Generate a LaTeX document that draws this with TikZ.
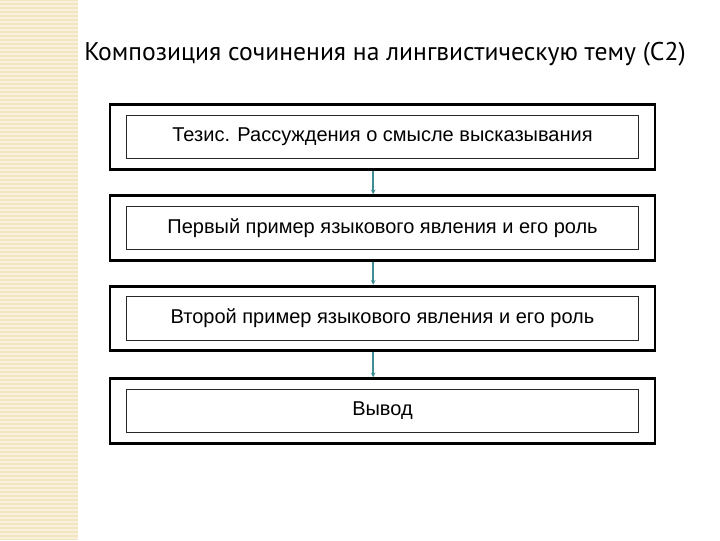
\documentclass[tikz,border=0pt]{standalone}
\usepackage{fontspec}
\setmainfont{Liberation Sans}
\newfontfamily\titlefont{PT Sans}
\usetikzlibrary{arrows.meta}
\definecolor{stripbg}{RGB}{242,229,194}
\definecolor{stripln}{RGB}{248,240,218}
\definecolor{arrowteal}{RGB}{62,142,148}
\definecolor{innergray}{RGB}{40,40,40}

\begin{document}
\begin{tikzpicture}[x=0.75pt,y=-0.75pt]
	\useasboundingbox (0,0) rectangle (720,540);
	% left strip
	\fill[stripbg] (0,0) rectangle (78,540);
	\foreach \y in {2,6,...,538}
		\draw[stripln, line width=0.8pt] (0,\y) -- (78,\y);

	\node[anchor=base west, inner sep=0pt, font=\titlefont\fontsize{19.2}{22}\selectfont] (title) at (84,60) {Композиция сочинения на лингвистическую тему (С2)};

	\begin{scope}[every node/.style={rectangle,draw=black,line width=2.2pt,minimum width=408.75pt,minimum height=48.5pt}]
	\node (thesisframe) at (382.5,137) {};
	\node (firstframe) at (382.5,228) {};
	\node (secondframe) at (382.5,318.5) {};
	\node (conclframe) at (382.5,411) {};
	\end{scope}

	\begin{scope}[every node/.style={rectangle,draw=innergray,line width=0.8pt,minimum width=384pt,minimum height=32.5pt,font=\fontsize{15}{17}\selectfont}]
	\node (thesis) at (thesisframe) {Тезис. Рассуждения о смысле высказывания};
	\node (first) at (firstframe) {Первый пример языкового явления и его роль};
	\node (second) at (secondframe) {Второй пример языкового явления и его роль};
	\node (concl) at (conclframe) {Вывод};
	\end{scope}

	\begin{scope}[>={Stealth[length=3.5pt,width=3.5pt]},
	every edge/.style={draw=arrowteal,line width=1.4pt}]
	\path [->] ([xshift=-7pt]thesisframe.south) edge ([xshift=-7pt]firstframe.north);
	\path [->] ([xshift=-7pt]firstframe.south) edge ([xshift=-7pt]secondframe.north);
	\path [->] ([xshift=-7pt]secondframe.south) edge ([xshift=-7pt]conclframe.north);
	\end{scope}
\end{tikzpicture}
\end{document}
